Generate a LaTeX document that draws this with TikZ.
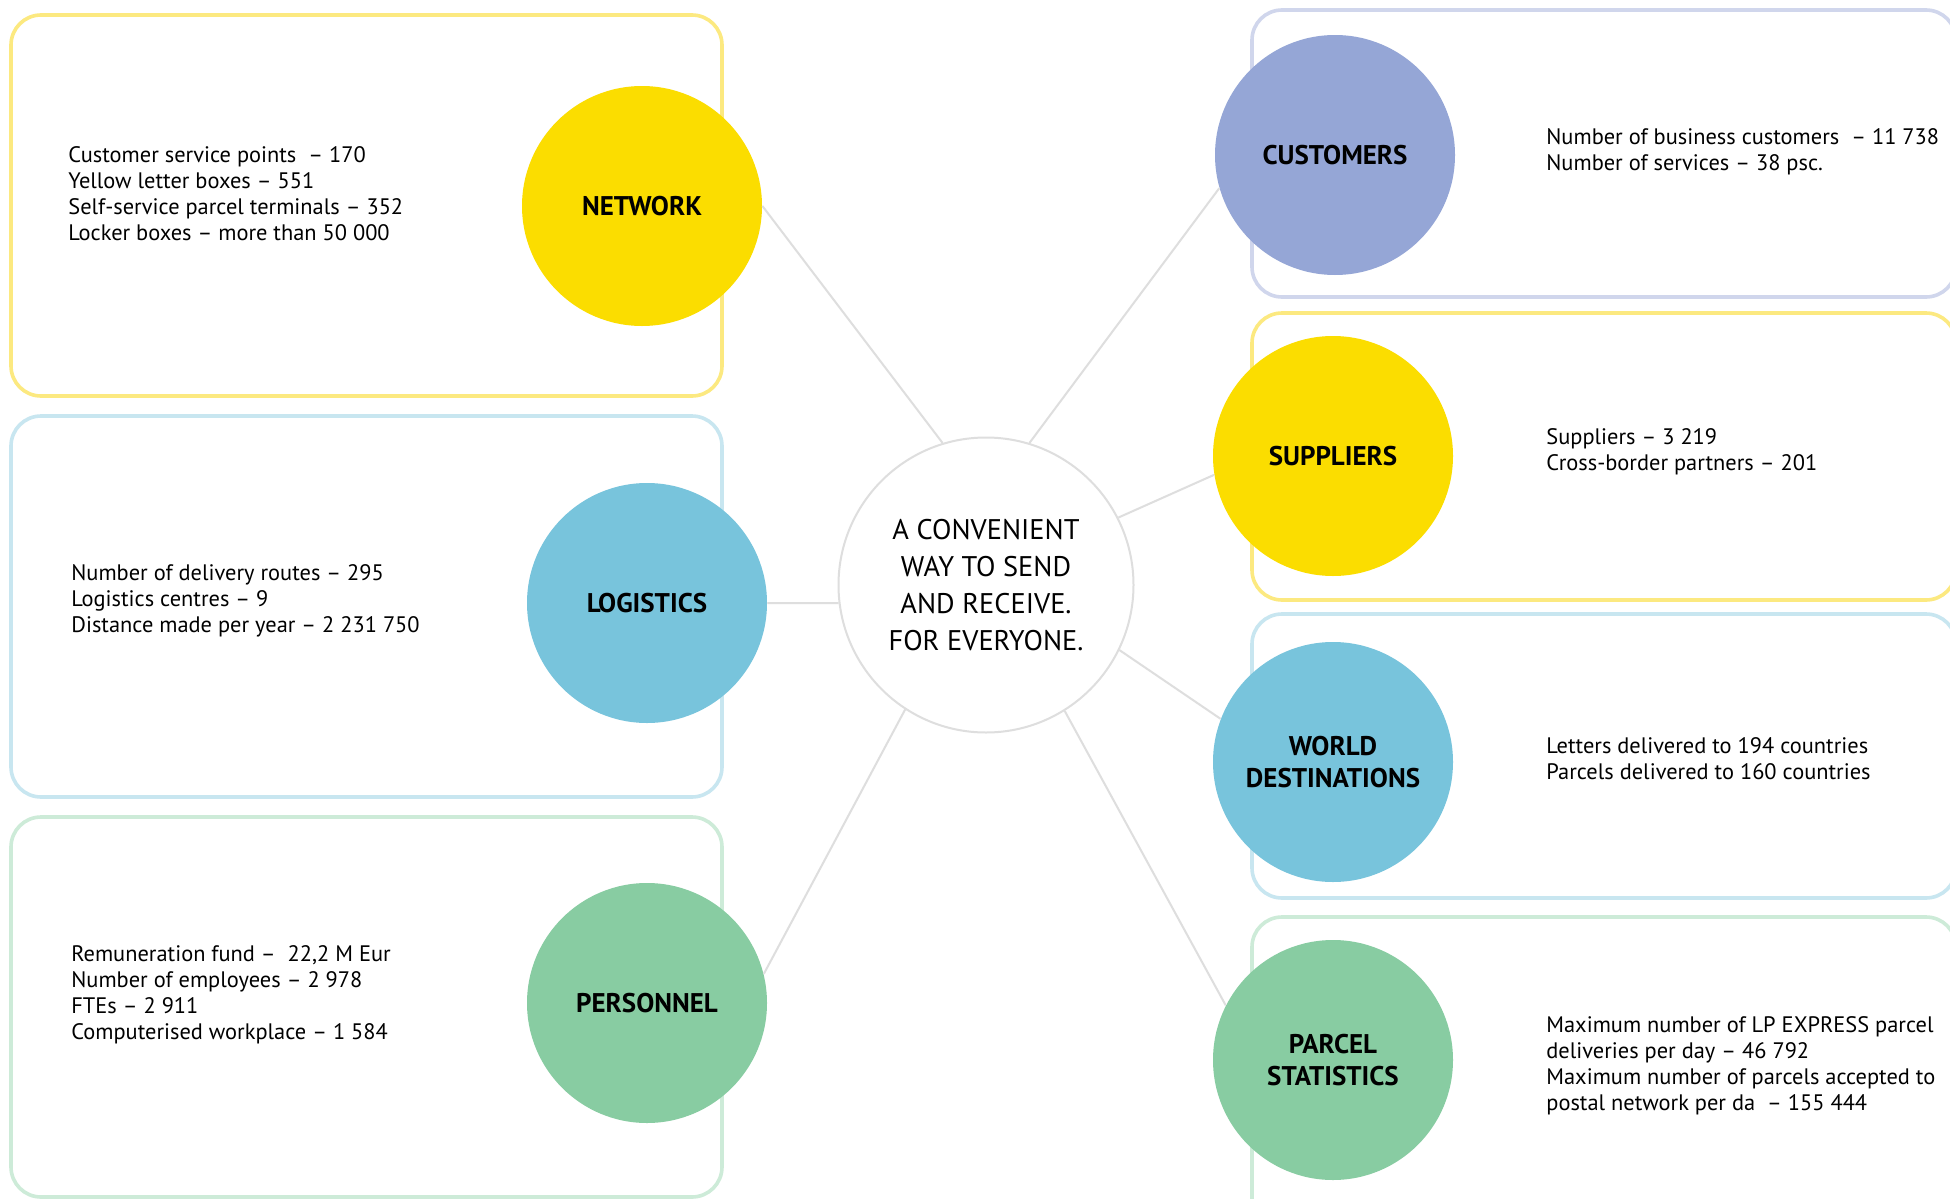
\documentclass[tikz,border=0pt]{standalone}
\usepackage{fontspec}
\setmainfont{PT Sans}
\definecolor{cyel}{HTML}{FBDD00}
\definecolor{cblu}{HTML}{78C4DC}
\definecolor{cgrn}{HTML}{88CCA2}
\definecolor{cpur}{HTML}{95A6D6}
\definecolor{byel}{HTML}{FCE980}
\definecolor{bblu}{HTML}{C8E6F0}
\definecolor{bgrn}{HTML}{CDEBD8}
\definecolor{bpur}{HTML}{D0D6EC}
\definecolor{lgray}{HTML}{DEDEDE}
\tikzset{
  frame/.style={line width=1.8pt, rounded corners=15pt},
  topic/.style={circle, minimum size=120pt, inner sep=0pt, align=center,
    font={\fontsize{13.5}{16}\selectfont\bfseries}},
  hubnode/.style={circle, minimum size=147.5pt, inner sep=0pt, align=center, fill=white,
    draw=lgray, line width=1pt, font={\fontsize{14.2}{18.6}\selectfont}},
  info/.style={anchor=west, align=left, inner sep=0pt, font={\fontsize{11.2}{13}\selectfont}},
  conn/.style={draw=lgray, line width=1pt}
}
\begin{document}
\begin{tikzpicture}[x=0.5pt,y=-0.5pt]
\useasboundingbox[fill=white] (0,0) rectangle (1950,1199);
% frames
\draw[frame, byel] (11,15) rectangle (722,396);
\draw[frame, bblu] (11,416) rectangle (722,797);
\draw[frame, bgrn] (11,817) rectangle (722,1197);
\draw[frame, bpur] (1252,10) rectangle (1956,297);
\draw[frame, byel] (1252,313) rectangle (1956,600);
\draw[frame, bblu] (1252,614) rectangle (1956,898);
\draw[frame, bgrn] (1252,917) rectangle (1956,1230);
% hub and topics
\node[hubnode] (hub) at (986,585) {A CONVENIENT\\WAY TO SEND\\AND RECEIVE.\\FOR EVERYONE.};
\node[topic, fill=cyel] (net) at (642,206) {NETWORK};
\node[topic, fill=cblu] (log) at (647,603) {LOGISTICS};
\node[topic, fill=cgrn] (per) at (647,1003) {PERSONNEL};
\node[topic, fill=cpur] (cus) at (1335,155) {CUSTOMERS};
\node[topic, fill=cyel] (sup) at (1333,456) {SUPPLIERS};
\node[topic, fill=cblu] (wor) at (1333,762) {WORLD\\DESTINATIONS};
\node[topic, fill=cgrn] (par) at (1333,1060) {PARCEL\\STATISTICS};
% connectors
\draw[conn] (net.0) -- (hub.107);
\draw[conn] (log.0) -- (hub.187);
\draw[conn] (per.14) -- (hub.237);
\draw[conn] (cus.196) -- (hub.73);
\draw[conn] (sup.189) -- (hub.27);
\draw[conn] (wor.159) -- (hub.334);
\draw[conn] (par.153) -- (hub.302);
% info texts
\node[info] (tnet) at (68,194) {Customer service points\ \ – 170\\Yellow letter boxes – 551\\Self-service parcel terminals – 352\\Locker boxes – more than 50 000};
\node[info] (tlog) at (71,601) {Number of delivery routes – 295\\Logistics centres – 9\\Distance made per year – 2 231 750};
\node[info] (tper) at (71,995) {Remuneration fund –\ \ 22,2 M Eur\\Number of employees – 2 978\\FTEs – 2 911\\Computerised workplace – 1 584};
\node[info] (tcus) at (1546,152) {Number of business customers\ \ – 11 738\\Number of services – 38 psc.};
\node[info] (tsup) at (1546,452) {Suppliers – 3 219\\Cross-border partners – 201};
\node[info] (twor) at (1546,759) {Letters delivered to 194 countries\\Parcels delivered to 160 countries};
\node[info] (tpar) at (1546,1066) {Maximum number of LP EXPRESS parcel\\deliveries per day – 46 792\\Maximum number of parcels accepted to\\postal network per da\ \ – 155 444};
\end{tikzpicture}
\end{document}
